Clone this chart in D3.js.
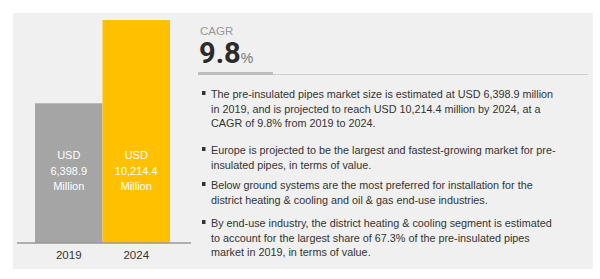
<!DOCTYPE html>
<html>
<head>
<meta charset="utf-8">
<script src="https://cdn.jsdelivr.net/npm/d3@7"></script>
<style>
  body { margin: 0; background: #fff; }
  svg { display: block; font-family: "Liberation Sans", Arial, sans-serif; }
</style>
</head>
<body>
<div class="canvas"></div>
<script>
const years = ["2019", "2024"];
const values = [6398.9, 10214.4];
const valueLabels = ["6,398.9", "10,214.4"];
const barColors = ["#a5a5a5", "#ffc000"];
const cagr = "9.8";
const bullets = [
  ["The pre-insulated pipes market size is estimated at USD 6,398.9 million",
   "in 2019, and is projected to reach USD 10,214.4 million by 2024, at a",
   "CAGR of 9.8% from 2019 to 2024."],
  ["Europe is projected to be the largest and fastest-growing market for pre-",
   "insulated pipes, in terms of value."],
  ["Below ground systems are the most preferred for installation for the",
   "district heating & cooling and oil & gas end-use industries."],
  ["By end-use industry, the district heating & cooling segment is estimated",
   "to account for the largest share of 67.3% of the pre-insulated pipes",
   "market in 2019, in terms of value."]
];

const width = 600, height = 279;
const svg = d3.select(".canvas").append("svg")
  .attr("width", width).attr("height", height);

// panel background
svg.append("rect").attr("x", 13).attr("y", 13).attr("width", 580).attr("height", 256)
  .attr("fill", "#f0f0f0");

// bar chart
const x = d3.scaleBand().domain(years).range([35, 170]).padding(0);
const y = d3.scaleLinear().domain([0, d3.max(values)]).range([243, 20]);

svg.selectAll("rect.bar").data(years).enter().append("rect")
  .attr("class", "bar")
  .attr("x", d => x(d))
  .attr("width", x.bandwidth())
  .attr("y", (d, i) => y(values[i]))
  .attr("height", (d, i) => y(0) - y(values[i]))
  .attr("fill", (d, i) => barColors[i]);

svg.append("line").attr("x1", 17).attr("x2", 191).attr("y1", y(0)).attr("y2", y(0))
  .attr("stroke", "#999").attr("stroke-width", 1.5);

const xAxis = d3.axisBottom(x).tickSize(0).tickPadding(8);
svg.append("g").attr("transform", `translate(0,${y(0)})`).call(xAxis)
  .call(g => g.select(".domain").remove())
  .selectAll("text").attr("font-size", 11.5).attr("fill", "#333")
  .attr("font-family", "Liberation Sans, Arial, sans-serif");

years.forEach((yr, i) => {
  const cx = x(yr) + x.bandwidth() / 2;
  const t = svg.append("text").attr("text-anchor", "middle").attr("fill", "#fff")
    .attr("font-size", 11);
  ["USD", valueLabels[i], "Million"].forEach((s, j) => {
    t.append("tspan").attr("x", cx).attr("y", 159 + j * 15.5).text(s);
  });
});

// CAGR block
svg.append("text").attr("x", 200).attr("y", 35).attr("font-size", 11.5)
  .attr("fill", "#999").text("CAGR");
const big = svg.append("text").attr("x", 199).attr("y", 63);
big.append("tspan").attr("font-size", 29).attr("font-weight", "bold").attr("fill", "#2b2b2b")
  .attr("font-family", "Roboto, Liberation Sans, sans-serif").text(cagr);
big.append("tspan").attr("font-size", 14).attr("fill", "#777").text("%");

svg.append("line").attr("x1", 273).attr("x2", 588).attr("y1", 74.5).attr("y2", 74.5)
  .attr("stroke", "#cfcfcf").attr("stroke-width", 1);
svg.append("line").attr("x1", 198).attr("x2", 273).attr("y1", 73.5).attr("y2", 73.5)
  .attr("stroke", "#bcbcbc").attr("stroke-width", 3);

// bullet text
const starts = [98, 154, 189, 227];
bullets.forEach((lines, i) => {
  svg.append("rect").attr("x", 202).attr("y", starts[i] - 7).attr("width", 3.5).attr("height", 4)
    .attr("fill", "#333");
  lines.forEach((s, j) => {
    svg.append("text").attr("x", 211).attr("y", starts[i] + j * 14.5)
      .attr("font-size", 10.8).attr("fill", "#333")
      .text(s);
  });
});
</script>
</body>
</html>
